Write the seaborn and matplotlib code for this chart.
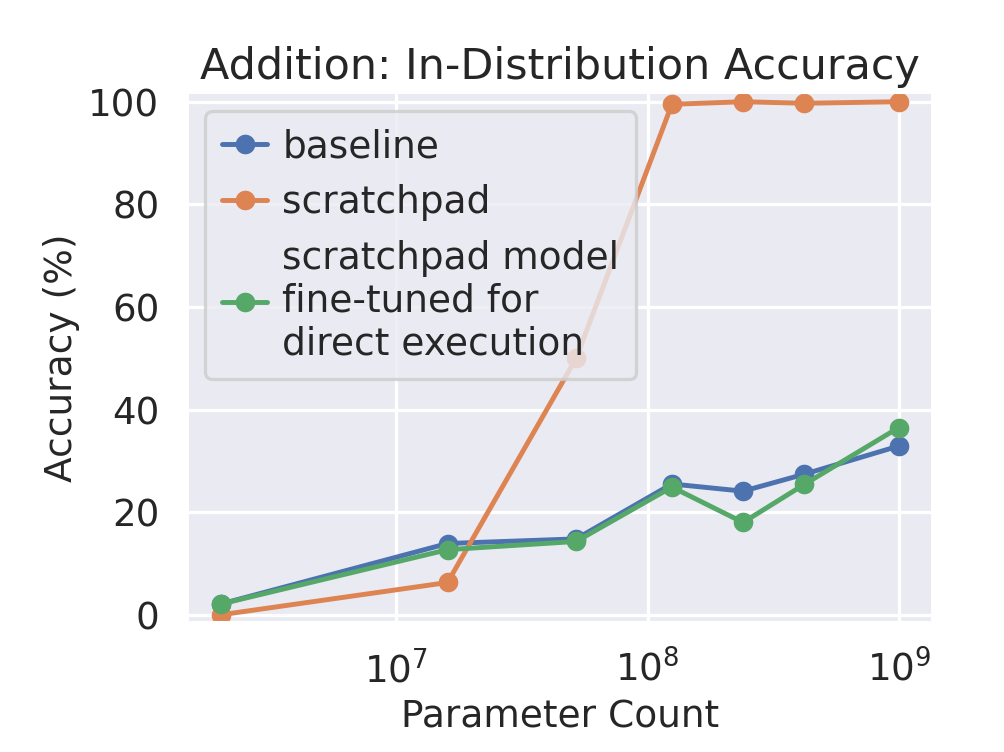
import pandas as pd
import numpy as np
import matplotlib.pyplot as plt
import seaborn as sns

# model sizes (parameter count) and accuracies
params = [2e6, 1.6e7, 5.2e7, 1.25e8, 2.4e8, 4.2e8, 1e9]
baseline = [2.1, 13.9, 14.8, 25.5, 24.1, 27.4, 32.9]
scratchpad = [0.0, 6.3, 50.0, 99.5, 100.0, 99.7, 100.0]
finetuned = [2.1, 12.7, 14.3, 24.9, 18.0, 25.4, 36.5]

labels = ['baseline', 'scratchpad', 'scratchpad model\nfine-tuned for\ndirect execution']

df = pd.DataFrame({
    'Parameter Count': params * 3,
    'Accuracy (%)': baseline + scratchpad + finetuned,
    'model': np.repeat(labels, len(params)),
})

sns.set_theme(context='talk', style='darkgrid')
plt.rcParams.update({
    'xtick.labelsize': 17,
    'ytick.labelsize': 17,
    'axes.labelsize': 17.2,
    'legend.fontsize': 17.2,
})

fig, ax = plt.subplots(figsize=(1004 / 157, 752 / 157), dpi=157)
sns.lineplot(data=df, x='Parameter Count', y='Accuracy (%)', hue='model',
             hue_order=labels, marker='o', markeredgewidth=0, ax=ax)
ax.set_xscale('log')
ax.set_ylim(-1.6, 101.8)
ax.set_yticks([0, 20, 40, 60, 80, 100])
ax.set_title('Addition: In-Distribution Accuracy', fontsize=19.7)

handles, lbls = ax.get_legend_handles_labels()
ax.legend(handles, lbls, loc='upper left', handlelength=1.2, handletextpad=0.4,
          labelspacing=0.5, borderpad=0.45)

fig.subplots_adjust(left=0.186, right=0.929, bottom=0.1715, top=0.877)
fig.savefig('out.png', dpi=157)
